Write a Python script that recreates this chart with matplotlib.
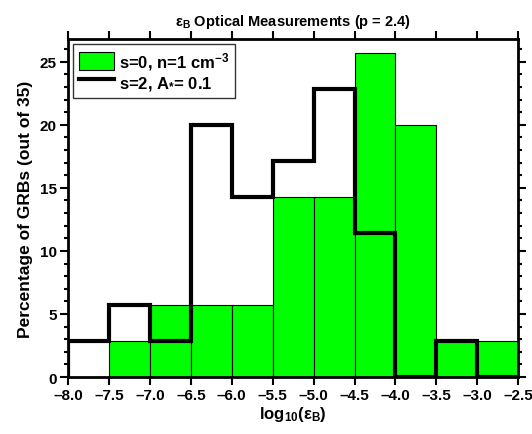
import numpy as np
from matplotlib import pyplot as plt
from matplotlib.ticker import MultipleLocator

plt.rcParams['font.family'] = ['Liberation Sans', 'DejaVu Sans']
plt.rcParams['font.weight'] = 'bold'
plt.rcParams['mathtext.fontset'] = 'custom'
plt.rcParams['mathtext.rm'] = 'Liberation Sans:bold'
plt.rcParams['mathtext.bf'] = 'Liberation Sans:bold'
plt.rcParams['mathtext.it'] = 'Liberation Sans:bold'
plt.rcParams['mathtext.default'] = 'bf'

# bin edges in log10(eps_B), counts out of 35 GRBs
edges = np.arange(-8.0, -2.49, 0.5)
counts_s0 = [0, 1, 2, 2, 2, 5, 5, 9, 7, 1, 1]
counts_s2 = [1, 2, 1, 7, 5, 6, 8, 4, 0, 1, 0]
n_total = 35

pct_s0 = np.array(counts_s0) * 100.0 / n_total
pct_s2 = np.array(counts_s2) * 100.0 / n_total

fig = plt.figure(figsize=(5.32, 4.35), dpi=100)
ax = fig.add_axes([0.128, 0.131, 0.846, 0.777])

left = edges[:-1]
ax.bar(left, pct_s0, width=0.5, align='edge', color='#00ff00',
       edgecolor='black', linewidth=0.8, label='s=0, n=1 cm$^{-3}$')
ax.stairs(pct_s2, edges, color='black', linewidth=3,
          label='s=2, A$_{*}$= 0.1')

ax.set_xlim(-8.0, -2.5)
ax.set_ylim(0, 26.8)
ax.xaxis.set_major_locator(MultipleLocator(0.5))
ax.yaxis.set_major_locator(MultipleLocator(5))
ax.yaxis.set_minor_locator(MultipleLocator(1))
ax.xaxis.set_major_formatter(plt.FuncFormatter(lambda v, p: ('%.1f' % v).replace('-', '\u2013')))
ax.tick_params(which='both', direction='out', top=True, right=True,
               labelsize=11, width=1.5, pad=2)
ax.tick_params(which='major', length=6)
ax.tick_params(which='minor', length=3)
for lab in ax.get_xticklabels() + ax.get_yticklabels():
    lab.set_fontweight('bold')
for s in ax.spines.values():
    s.set_linewidth(2)

ax.set_xlabel(r'log$_{10}$($\varepsilon_B$)', fontsize=12, fontweight='bold', labelpad=1)
ax.set_ylabel('Percentage of GRBs (out of 35)', fontsize=12.5, fontweight='bold', labelpad=5)
ax.set_title(r'$\varepsilon_B$ Optical Measurements (p = 2.4)', fontsize=10.5,
             fontweight='bold', pad=10)

handles, labels = ax.get_legend_handles_labels()
leg = ax.legend(handles[::-1], labels[::-1], loc='upper left',
                prop={'size': 12, 'weight': 'bold'}, frameon=True, fancybox=False,
                edgecolor='black', borderaxespad=0.3, handlelength=2.1,
                handleheight=1.2, handletextpad=0.3, labelspacing=0.1,
                borderpad=0.35)
leg.get_frame().set_linewidth(1)

fig.savefig('out.png', dpi=100)
